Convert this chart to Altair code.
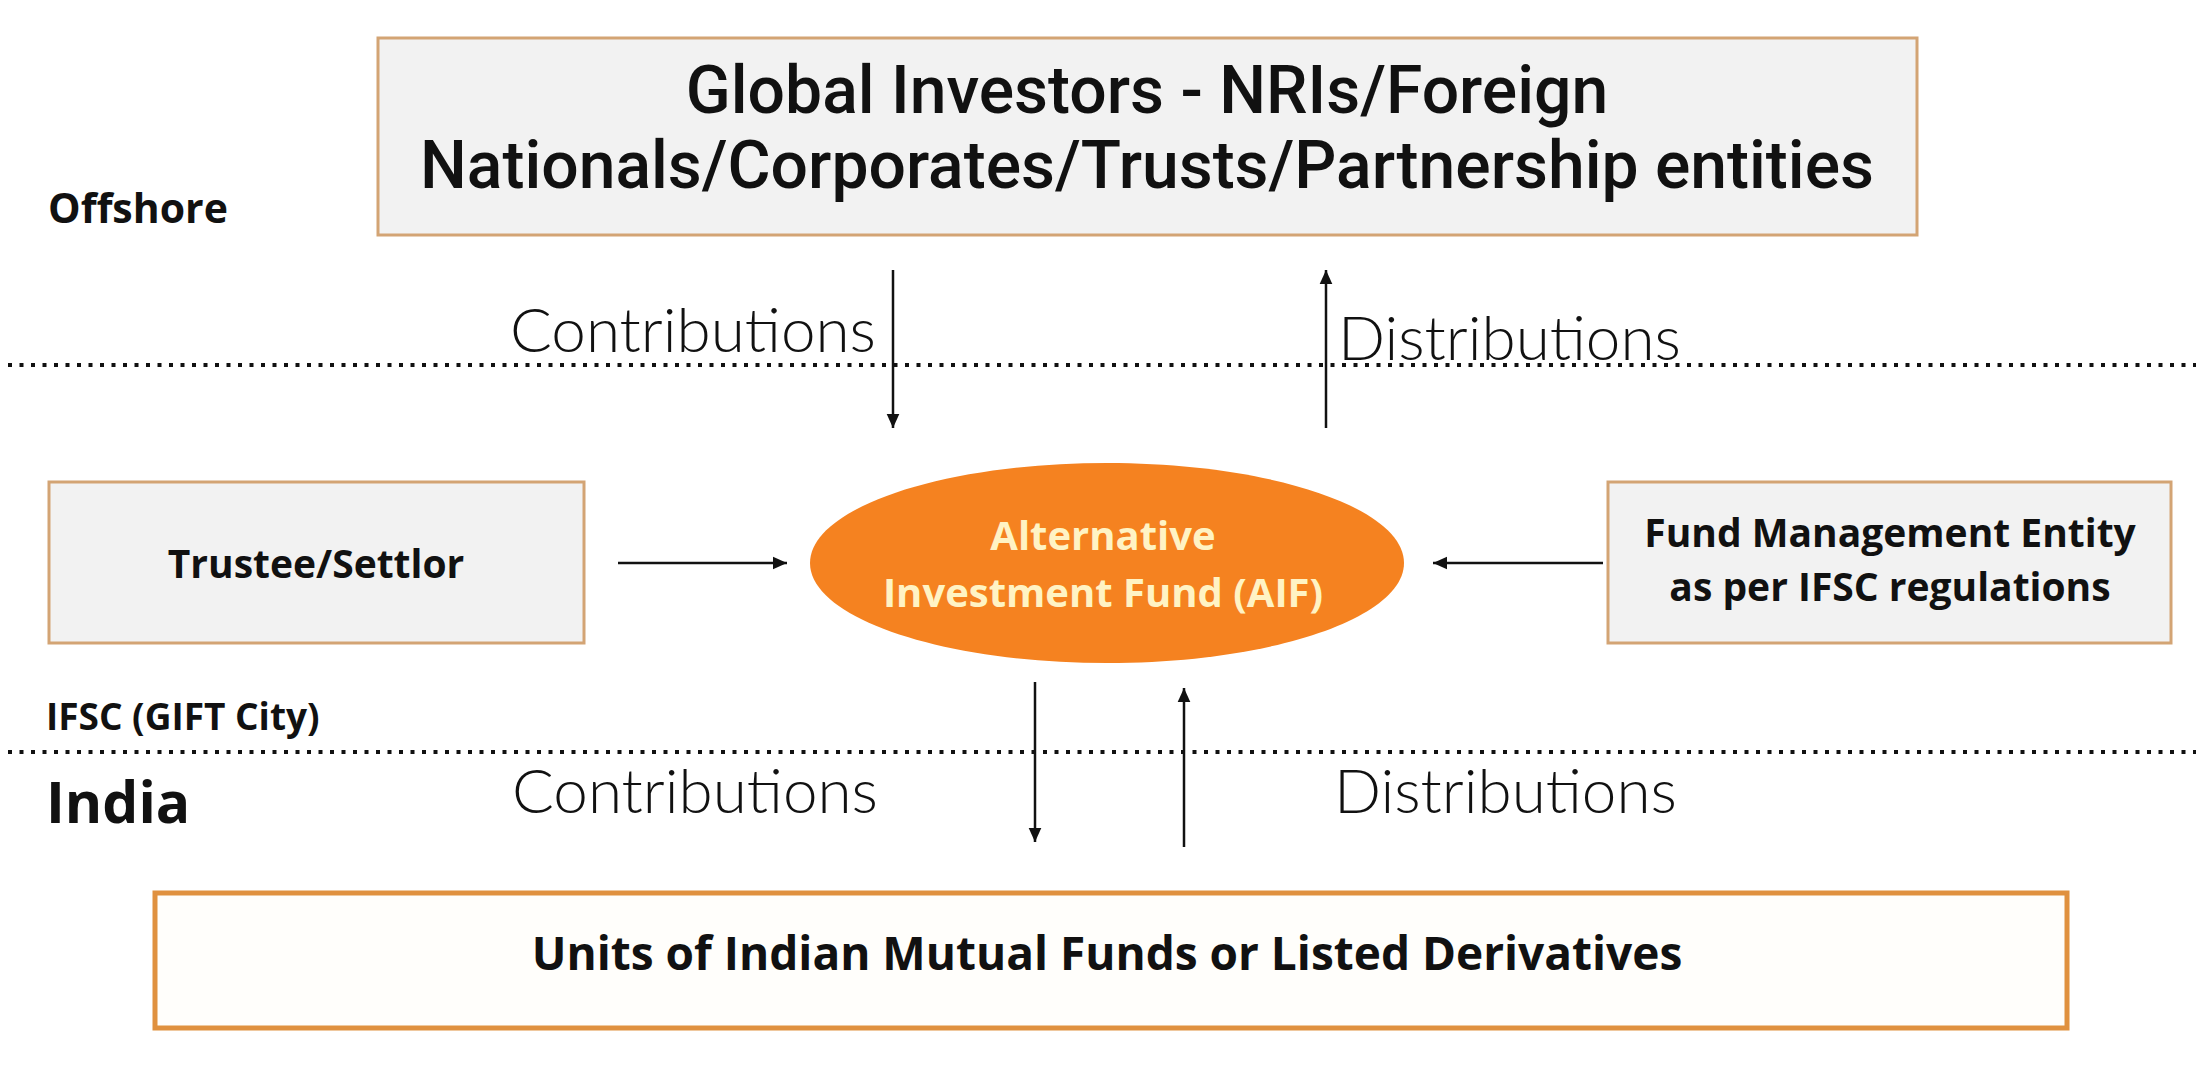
import altair as alt
import pandas as pd

# page geometry: chart placed after 8px page margin
W, H = 2188, 1049
X0, Y0 = 8, 8

# ---- data ----
grey_box_x1 = [378, 49, 1608]
grey_box_x2 = [1917, 584, 2171]
grey_box_y1 = [38, 482, 482]
grey_box_y2 = [235, 643, 643]

units_box_x1 = [155]
units_box_x2 = [2067]
units_box_y1 = [893]
units_box_y2 = [1028]

divider_y = [365, 752]
divider_x1 = [8, 8]
divider_x2 = [2196, 2196]

arrow_x1 = [893, 1326, 618, 1603, 1035, 1184]
arrow_y1 = [270, 428, 563, 563, 682, 847]
arrow_x2 = [893, 1326, 787, 1433, 1035, 1184]
arrow_y2 = [428, 270, 563, 563, 842, 688]
arrow_dir = ["down", "up", "right", "left", "down", "up"]

aif_x = [1107]
aif_y = [563]

title_text = ["Global Investors - NRIs/Foreign",
              "Nationals/Corporates/Trusts/Partnership entities"]
title_x = [1147, 1147]
title_y = [113, 188]

zone_text = ["Offshore", "IFSC (GIFT City)"]
zone_x = [48, 46]
zone_y = [223, 730]
zone_size = [41, 37]

india_text = ["India"]
india_x = [46]
india_y = [823]

flow_text = ["Contributions", "Distributions", "Contributions", "Distributions"]
flow_x = [510, 1338, 512, 1334]
flow_y = [352, 360, 813, 813]

entity_text = ["Trustee/Settlor", "Fund Management Entity", "as per IFSC regulations"]
entity_x = [316, 1890, 1890]
entity_y = [578, 547, 601]

aif_text = ["Alternative", "Investment Fund (AIF)"]
aif_tx = [1103, 1103]
aif_ty = [550, 607]

units_text = ["Units of Indian Mutual Funds or Listed Derivatives"]
units_tx = [1107]
units_ty = [970]

# ---- scales ----
xs = alt.Scale(domain=[X0, X0 + W], nice=False, zero=False)
ys = alt.Scale(domain=[Y0, Y0 + H], nice=False, zero=False, reverse=True)


def X(f):
    return alt.X(f, type="quantitative", scale=xs, axis=None)


def Y(f):
    return alt.Y(f, type="quantitative", scale=ys, axis=None)


grey_boxes = alt.Chart(pd.DataFrame({
    "x1": grey_box_x1, "x2": grey_box_x2, "y1": grey_box_y1, "y2": grey_box_y2
})).mark_rect(fill="#F2F2F2", stroke="#D3A474", strokeWidth=3).encode(
    x=X("x1"), x2="x2", y=Y("y1"), y2="y2")

units_box = alt.Chart(pd.DataFrame({
    "x1": units_box_x1, "x2": units_box_x2, "y1": units_box_y1, "y2": units_box_y2
})).mark_rect(fill="#FFFEFB", stroke="#E0913F", strokeWidth=5).encode(
    x=X("x1"), x2="x2", y=Y("y1"), y2="y2")

dividers = alt.Chart(pd.DataFrame({
    "x1": divider_x1, "x2": divider_x2, "y": divider_y
})).mark_rule(color="#111111", strokeWidth=4, strokeDash=[4, 7.5]).encode(
    x=X("x1"), x2="x2", y=Y("y"))

arrows_df = pd.DataFrame({"x1": arrow_x1, "y1": arrow_y1, "x2": arrow_x2,
                          "y2": arrow_y2, "dir": arrow_dir})
arrow_lines = alt.Chart(arrows_df).mark_rule(color="#111111", strokeWidth=2.5).encode(
    x=X("x1"), x2="x2", y=Y("y1"), y2="y2")

head_paths = {
    "down": "M0,0 L-0.45,-1 L0.45,-1 Z",
    "up": "M0,0 L-0.45,1 L0.45,1 Z",
    "right": "M0,0 L-1,-0.45 L-1,0.45 Z",
    "left": "M0,0 L1,-0.45 L1,0.45 Z",
}
arrow_heads = alt.Chart(arrows_df).mark_point(
    filled=True, opacity=1, color="#111111", size=784, strokeWidth=0).encode(
    x=X("x2"), y=Y("y2"),
    shape=alt.Shape("dir:N", legend=None, scale=alt.Scale(
        domain=list(head_paths.keys()), range=list(head_paths.values()))))

ellipse_path = "M-1,0 A1,0.3367 0 1,0 1,0 A1,0.3367 0 1,0 -1,0 Z"
aif = alt.Chart(pd.DataFrame({"x": aif_x, "y": aif_y})).mark_point(
    shape=ellipse_path, size=594 ** 2, filled=True, opacity=1,
    color="#F58220", strokeWidth=0).encode(x=X("x"), y=Y("y"))


def text_layer(texts, xv, yv, sizes=None, **kw):
    d = {"t": texts, "x": xv, "y": yv}
    enc = dict(x=X("x"), y=Y("y"), text="t:N")
    if sizes is not None:
        d["s"] = sizes
        enc["size"] = alt.Size("s:Q", scale=None, legend=None)
    return alt.Chart(pd.DataFrame(d)).mark_text(
        baseline="alphabetic", **kw).encode(**enc)


t_title = text_layer(title_text, title_x, title_y, align="center",
                     font="Roboto", fontWeight=500, fontSize=66, color="#111111")
t_zone = text_layer(zone_text, zone_x, zone_y, sizes=zone_size, align="left",
                    font="Open Sans", fontWeight="bold", color="#111111")
t_india = text_layer(india_text, india_x, india_y, align="left",
                     font="Open Sans", fontWeight="bold", fontSize=57, color="#111111")
t_flow = text_layer(flow_text, flow_x, flow_y, align="left",
                    font="Lato", fontWeight=300, fontSize=62, color="#111111")
t_entity = text_layer(entity_text, entity_x, entity_y, align="center",
                      font="Open Sans", fontWeight="bold", fontSize=39, color="#111111")
t_aif = text_layer(aif_text, aif_tx, aif_ty, align="center",
                   font="Open Sans", fontWeight="bold", fontSize=40, color="#FFF3C4")
t_units = text_layer(units_text, units_tx, units_ty, align="center",
                     font="Open Sans", fontWeight="bold", fontSize=46, color="#111111")

chart = alt.layer(
    grey_boxes, units_box, dividers, arrow_lines, arrow_heads, aif,
    t_title, t_zone, t_india, t_flow, t_entity, t_aif, t_units
).properties(
    width=W, height=H, background="#FFFFFF",
    autosize=alt.AutoSizeParams(type="none"), padding=0
).configure_view(stroke=None)

chart.save("out.html", embed_options={"renderer": "svg", "actions": False})
